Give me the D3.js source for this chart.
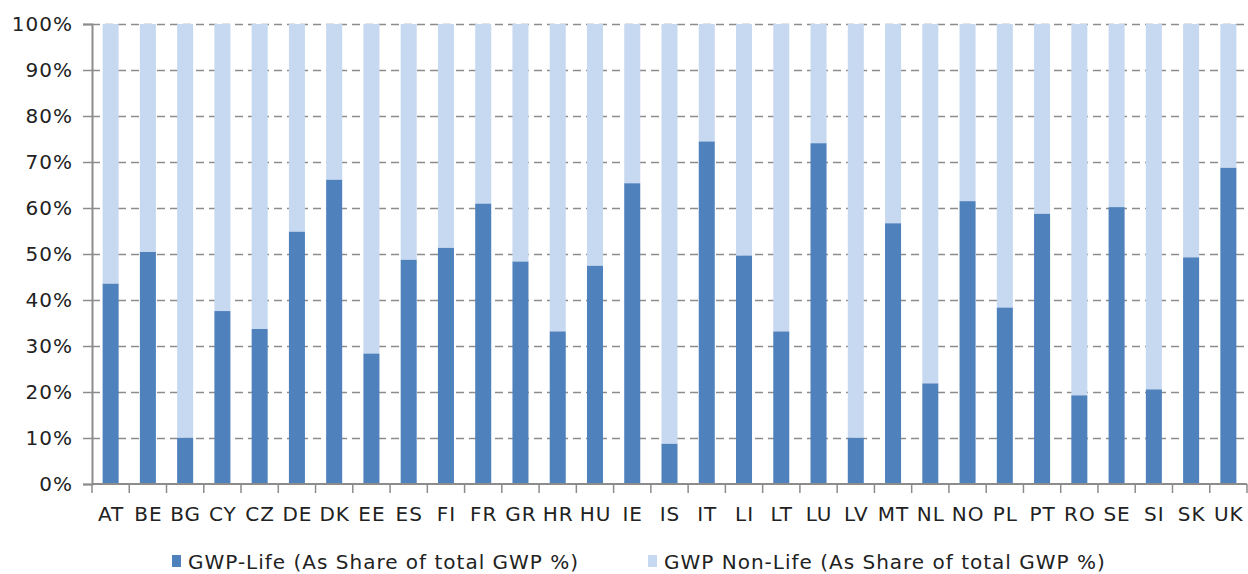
<!DOCTYPE html>
<html>
<head>
<meta charset="utf-8">
<script src="https://cdn.jsdelivr.net/npm/d3@7"></script>
<style>
  body { margin: 0; background: #fff; }
  svg text { font-family: "DejaVu Sans", Verdana, sans-serif; fill: #222; letter-spacing: 1px; }
</style>
</head>
<body>
<svg id="chart" width="1248" height="574"></svg>
<script>
'use strict';

const countries = ["AT", "BE", "BG", "CY", "CZ", "DE", "DK", "EE", "ES", "FI", "FR", "GR", "HR", "HU", "IE", "IS",
    "IT", "LI", "LT", "LU", "LV", "MT", "NL", "NO", "PL", "PT", "RO", "SE", "SI", "SK", "UK"];

// GWP-Life, share of total GWP (%)
const lifeShare = [43.6, 50.5, 10.1, 37.6, 33.7, 54.9, 66.2, 28.4, 48.8, 51.4, 61.0, 48.4, 33.2, 47.5, 65.4, 8.8,
    74.5, 49.7, 33.2, 74.1, 10.1, 56.7, 21.9, 61.5, 38.4, 58.8, 19.3, 60.2, 20.6, 49.3, 68.8];

const yTicks = [0, 10, 20, 30, 40, 50, 60, 70, 80, 90, 100];
const legendLabels = ["GWP-Life (As Share of total GWP %)", "GWP Non-Life (As Share of total GWP %)"];

const colorLife = "#4F81BD";
const colorNonLife = "#C6D9F0";

const margin = { left: 92, right: 1, top: 24, bottom: 90 };
const width = 1248, height = 574;
const svg = d3.select("#chart");

const x = d3.scaleBand()
    .domain(countries)
    .range([margin.left, width - margin.right])
    .paddingInner(0.57)
    .paddingOuter(0.285);

const y = d3.scaleLinear()
    .domain([0, 100])
    .range([height - margin.bottom, margin.top]);

// dashed grid
svg.append("g")
    .selectAll("line")
    .data(yTicks.filter(d => d > 0))
    .join("line")
    .attr("x1", margin.left)
    .attr("x2", width - margin.right)
    .attr("y1", d => y(d) + 0.5)
    .attr("y2", d => y(d) + 0.5)
    .attr("stroke", "#8c8c8c")
    .attr("stroke-width", 1.5)
    .attr("stroke-dasharray", "8,5");

const rows = countries.map((c, i) => ({ country: c, life: lifeShare[i], nonLife: 100 - lifeShare[i] }));
const stacked = d3.stack().keys(["life", "nonLife"])(rows);
const colors = [colorLife, colorNonLife];

svg.append("g")
    .selectAll("g")
    .data(stacked)
    .join("g")
    .attr("fill", (d, i) => colors[i])
    .selectAll("rect")
    .data(d => d)
    .join("rect")
    .attr("x", d => x(d.data.country))
    .attr("width", x.bandwidth())
    .attr("y", d => y(d[1]))
    .attr("height", d => y(d[0]) - y(d[1]));

// y axis
const yAxis = svg.append("g")
    .attr("transform", `translate(${margin.left},0)`)
    .call(d3.axisLeft(y).tickValues(yTicks).tickSize(9).tickPadding(10).tickFormat(d => d + "%"));
yAxis.select(".domain").attr("stroke", "#8c8c8c").attr("stroke-width", 2);
yAxis.selectAll(".tick line").attr("stroke", "#8c8c8c").attr("stroke-width", 1.5);
yAxis.selectAll("text").attr("font-size", 20).attr("fill", "#222");

// x axis: ticks at category boundaries
const xAxis = svg.append("g")
    .attr("transform", `translate(0,${y(0)})`);
xAxis.append("line")
    .attr("x1", margin.left)
    .attr("x2", width - margin.right)
    .attr("stroke", "#8c8c8c")
    .attr("stroke-width", 2);
const step = x.step();
xAxis.selectAll(".bnd")
    .data(d3.range(countries.length + 1))
    .join("line")
    .attr("class", "bnd")
    .attr("x1", i => margin.left + i * step)
    .attr("x2", i => margin.left + i * step)
    .attr("y1", 0)
    .attr("y2", 9)
    .attr("stroke", "#8c8c8c")
    .attr("stroke-width", 1.5);
xAxis.selectAll(".lbl")
    .data(countries)
    .join("text")
    .attr("class", "lbl")
    .attr("x", d => x(d) + x.bandwidth() / 2 + 0.5)
    .attr("y", 37)
    .attr("text-anchor", "middle")
    .attr("font-size", 20)
    .text(d => d);

// legend
const legendX = [172, 648];
const legend = svg.append("g")
    .selectAll("g")
    .data(legendLabels)
    .join("g")
    .attr("transform", (d, i) => `translate(${legendX[i]},555)`);
legend.append("rect")
    .attr("width", 9)
    .attr("height", 12)
    .attr("fill", (d, i) => colors[i]);
legend.append("text")
    .attr("x", 16)
    .attr("y", 13.5)
    .attr("font-size", 20)
    .text(d => d);
</script>
</body>
</html>
